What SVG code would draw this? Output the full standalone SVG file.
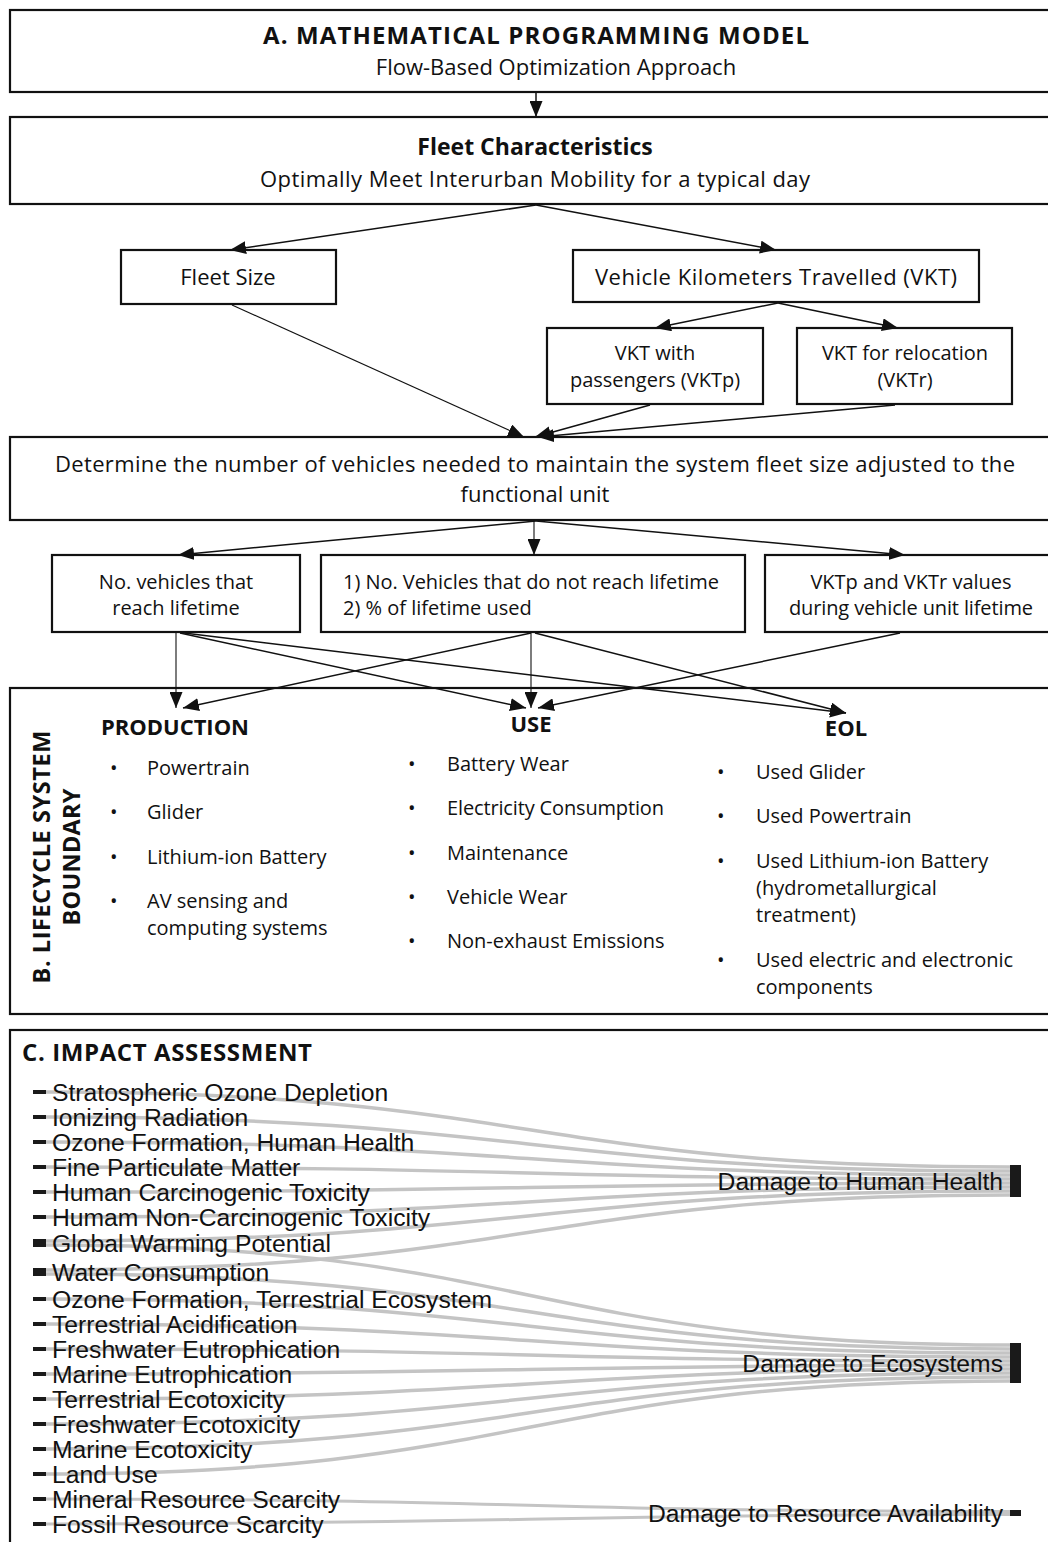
<svg xmlns="http://www.w3.org/2000/svg" width="1048" height="1542" viewBox="0 0 1048 1542">
<style>
.box{fill:#fff;stroke:#111;stroke-width:2.2}
.t{font-family:"Open Sans","Liberation Sans",sans-serif;font-size:22px;fill:#111}
.s{font-size:20px}
.tb{font-family:"Open Sans","Liberation Sans",sans-serif;font-size:23px;font-weight:bold;fill:#111}
.li{font-family:"Open Sans","Liberation Sans",sans-serif;font-size:20px;fill:#111}
.lh{font-family:"Open Sans","Liberation Sans",sans-serif;font-size:22px;font-weight:bold;fill:#111}
.c{text-anchor:middle}
.con{stroke:#111;stroke-width:1.5;fill:none;marker-end:url(#ah)}
.thin{stroke-width:1.1}
.lk{fill:none;stroke:#c4c4c4;stroke-width:3.5}
.sk{font-family:"Liberation Sans",Arial,sans-serif;font-size:24.7px;fill:#111}
.nd{fill:#1a1a1a}
</style>
<defs>
<marker id="ah" markerWidth="16" markerHeight="13" refX="16" refY="6.5" orient="auto" markerUnits="userSpaceOnUse">
<path d="M0,0 L16,6.5 L0,13 z" fill="#111"/>
</marker>
</defs>

<g id="nodeA">
<rect class="box" x="10" y="10" width="1045" height="82"/>
<text class="tb c" x="536" y="44" style="font-size:24px" textLength="546">A.  MATHEMATICAL PROGRAMMING MODEL</text>
<text class="t c" x="556" y="75">Flow-Based Optimization Approach</text>
</g>
<g id="nodeFleet">
<rect class="box" x="10" y="117" width="1045" height="87"/>
<text class="tb c" x="535" y="155">Fleet Characteristics</text>
<text class="t c" x="535" y="187" textLength="550">Optimally Meet Interurban Mobility for a typical day</text>
</g>
<g id="nodeFleetSize">
<rect class="box" x="121" y="250" width="215" height="54"/>
<text class="t c" x="228" y="285">Fleet Size</text>
</g>
<g id="nodeVKT">
<rect class="box" x="573" y="250" width="406" height="52"/>
<text class="t c" x="776" y="285" textLength="362">Vehicle Kilometers Travelled (VKT)</text>
</g>
<g id="nodeVKTp">
<rect class="box" x="547" y="328" width="216" height="76"/>
<text class="t s c" x="655" y="360">VKT with</text>
<text class="t s c" x="655" y="387">passengers (VKTp)</text>
</g>
<g id="nodeVKTr">
<rect class="box" x="797" y="328" width="215" height="76"/>
<text class="t s c" x="905" y="360">VKT for relocation</text>
<text class="t s c" x="905" y="387">(VKTr)</text>
</g>
<g id="nodeDetermine">
<rect class="box" x="10" y="437" width="1045" height="83"/>
<text class="t c" x="535" y="472" textLength="960">Determine the number of vehicles needed to maintain the system fleet size adjusted to the</text>
<text class="t c" x="535" y="502">functional unit</text>
</g>
<g id="nodeReach">
<rect class="box" x="52" y="555" width="248" height="77"/>
<text class="t s c" x="176" y="589">No. vehicles that</text>
<text class="t s c" x="176" y="615">reach lifetime</text>
</g>
<g id="nodeNotReach">
<rect class="box" x="321" y="555" width="424" height="77"/>
<text class="t s" x="343" y="589" textLength="376">1) No. Vehicles that do not reach lifetime</text>
<text class="t s" x="343" y="615">2) % of lifetime used</text>
</g>
<g id="nodeVKTvalues">
<rect class="box" x="765" y="555" width="290" height="77"/>
<text class="t s c" x="911" y="589">VKTp and VKTr values</text>
<text class="t s c" x="911" y="615" textLength="244">during vehicle unit lifetime</text>
</g>

<g id="nodeLifecycle">
<rect class="box" x="10" y="688" width="1045" height="326"/>
<text class="lh c" transform="translate(50,857) rotate(-90)" style="font-size:23.5px" textLength="253">B. LIFECYCLE SYSTEM</text>
<text class="lh c" transform="translate(80,857) rotate(-90)" style="font-size:23.5px" textLength="137">BOUNDARY</text>
</g>
<g id="nodeProduction">
<text class="lh c" x="175" y="735" textLength="148">PRODUCTION</text>
<text class="li" x="110" y="775">•</text><text class="li" x="147" y="775">Powertrain</text>
<text class="li" x="110" y="819">•</text><text class="li" x="147" y="819">Glider</text>
<text class="li" x="110" y="864">•</text><text class="li" x="147" y="864">Lithium-ion Battery</text>
<text class="li" x="110" y="908">•</text><text class="li" x="147" y="908">AV sensing and</text>
<text class="li" x="147" y="935">computing systems</text>
</g>
<g id="nodeUse">
<text class="lh c" x="531" y="732">USE</text>
<text class="li" x="408" y="771">•</text><text class="li" x="447" y="771">Battery Wear</text>
<text class="li" x="408" y="815">•</text><text class="li" x="447" y="815" textLength="217">Electricity Consumption</text>
<text class="li" x="408" y="860">•</text><text class="li" x="447" y="860">Maintenance</text>
<text class="li" x="408" y="904">•</text><text class="li" x="447" y="904">Vehicle Wear</text>
<text class="li" x="408" y="948">•</text><text class="li" x="447" y="948">Non-exhaust Emissions</text>
</g>
<g id="nodeEOL">
<text class="lh c" x="846" y="736">EOL</text>
<text class="li" x="717" y="779">•</text><text class="li" x="756" y="779">Used Glider</text>
<text class="li" x="717" y="823">•</text><text class="li" x="756" y="823">Used Powertrain</text>
<text class="li" x="717" y="868">•</text><text class="li" x="756" y="868">Used Lithium-ion Battery</text>
<text class="li" x="756" y="895">(hydrometallurgical</text>
<text class="li" x="756" y="922">treatment)</text>
<text class="li" x="717" y="967">•</text><text class="li" x="756" y="967">Used electric and electronic</text>
<text class="li" x="756" y="994">components</text>
</g>

<g id="connectors">
<line class="con" x1="536" y1="93" x2="536" y2="117"/>
<line class="con" x1="536" y1="205" x2="230" y2="250"/>
<line class="con" x1="536" y1="205" x2="776" y2="250"/>
<line class="con" x1="778" y1="303" x2="655" y2="328"/>
<line class="con" x1="778" y1="303" x2="898" y2="328"/>
<line class="con thin" x1="232" y1="305" x2="524" y2="437"/>
<line class="con" x1="650" y1="405" x2="535" y2="437"/>
<line class="con" x1="895" y1="405" x2="538" y2="437"/>
<line class="con" x1="536" y1="521" x2="178" y2="555"/>
<line class="con thin" x1="534" y1="521" x2="534" y2="555"/>
<line class="con" x1="536" y1="521" x2="905" y2="555"/>
<line class="con thin" x1="176" y1="633" x2="176" y2="708"/>
<line class="con" x1="180" y1="633" x2="526" y2="708"/>
<line class="con" x1="184" y1="633" x2="846" y2="713"/>
<line class="con" x1="531" y1="633" x2="183" y2="708"/>
<line class="con thin" x1="531" y1="633" x2="531" y2="708"/>
<line class="con" x1="535" y1="633" x2="846" y2="713"/>
<line class="con" x1="900" y1="633" x2="538" y2="708"/>
</g>

<g id="nodeImpact">
<rect class="box" x="10" y="1030" width="1045" height="520"/>
<text class="lh" x="22" y="1061" style="font-size:24px" textLength="290">C. IMPACT ASSESSMENT</text>
</g>

<g id="sankeyLinks">
<path class="lk" d="M46,1092 C528,1092 528,1167 1010,1167"/>
<path class="lk" d="M46,1117 C528,1117 528,1171 1010,1171"/>
<path class="lk" d="M46,1142 C528,1142 528,1175 1010,1175"/>
<path class="lk" d="M46,1167 C528,1167 528,1179 1010,1179"/>
<path class="lk" d="M46,1192 C528,1192 528,1183 1010,1183"/>
<path class="lk" d="M46,1217 C528,1217 528,1187 1010,1187"/>
<path class="lk" d="M46,1241 C528,1241 528,1191 1010,1191"/>
<path class="lk" d="M46,1270 C528,1270 528,1195 1010,1195"/>
<path class="lk" d="M46,1245 C528,1245 528,1345 1010,1345"/>
<path class="lk" d="M46,1274 C528,1274 528,1349 1010,1349"/>
<path class="lk" d="M46,1299 C528,1299 528,1353 1010,1353"/>
<path class="lk" d="M46,1324 C528,1324 528,1357 1010,1357"/>
<path class="lk" d="M46,1349 C528,1349 528,1361 1010,1361"/>
<path class="lk" d="M46,1374 C528,1374 528,1365 1010,1365"/>
<path class="lk" d="M46,1399 C528,1399 528,1369 1010,1369"/>
<path class="lk" d="M46,1424 C528,1424 528,1373 1010,1373"/>
<path class="lk" d="M46,1449 C528,1449 528,1377 1010,1377"/>
<path class="lk" d="M46,1474 C528,1474 528,1381 1010,1381"/>
<path class="lk" d="M46,1499 C528,1499 528,1511.5 1010,1511.5" style="stroke-width:3"/>
<path class="lk" d="M46,1524 C528,1524 528,1514.5 1010,1514.5" style="stroke-width:3"/>
</g>

<g id="sankeySources">
<rect class="nd" x="33" y="1090" width="13" height="4"/><text class="sk" x="52" y="1101">Stratospheric Ozone Depletion</text>
<rect class="nd" x="33" y="1115" width="13" height="4"/><text class="sk" x="52" y="1126">Ionizing Radiation</text>
<rect class="nd" x="33" y="1140" width="13" height="4"/><text class="sk" x="52" y="1151">Ozone Formation, Human Health</text>
<rect class="nd" x="33" y="1165" width="13" height="4"/><text class="sk" x="52" y="1176">Fine Particulate Matter</text>
<rect class="nd" x="33" y="1190" width="13" height="4"/><text class="sk" x="52" y="1201">Human Carcinogenic Toxicity</text>
<rect class="nd" x="33" y="1215" width="13" height="4"/><text class="sk" x="52" y="1226">Humam Non-Carcinogenic Toxicity</text>
<rect class="nd" x="33" y="1239" width="13" height="8"/><text class="sk" x="52" y="1252">Global Warming Potential</text>
<rect class="nd" x="33" y="1268" width="13" height="8"/><text class="sk" x="52" y="1281">Water Consumption</text>
<rect class="nd" x="33" y="1297" width="13" height="4"/><text class="sk" x="52" y="1308">Ozone Formation, Terrestrial Ecosystem</text>
<rect class="nd" x="33" y="1322" width="13" height="4"/><text class="sk" x="52" y="1333">Terrestrial Acidification</text>
<rect class="nd" x="33" y="1347" width="13" height="4"/><text class="sk" x="52" y="1358">Freshwater Eutrophication</text>
<rect class="nd" x="33" y="1372" width="13" height="4"/><text class="sk" x="52" y="1383">Marine Eutrophication</text>
<rect class="nd" x="33" y="1397" width="13" height="4"/><text class="sk" x="52" y="1408">Terrestrial Ecotoxicity</text>
<rect class="nd" x="33" y="1422" width="13" height="4"/><text class="sk" x="52" y="1433">Freshwater Ecotoxicity</text>
<rect class="nd" x="33" y="1447" width="13" height="4"/><text class="sk" x="52" y="1458">Marine Ecotoxicity</text>
<rect class="nd" x="33" y="1472" width="13" height="4"/><text class="sk" x="52" y="1483">Land Use</text>
<rect class="nd" x="33" y="1497" width="13" height="4"/><text class="sk" x="52" y="1508">Mineral Resource Scarcity</text>
<rect class="nd" x="33" y="1522" width="13" height="4"/><text class="sk" x="52" y="1533">Fossil Resource Scarcity</text>
</g>

<g id="nodeHumanHealth">
<rect class="nd" x="1010" y="1165" width="11" height="32"/>
<text class="sk" x="1003" y="1190" text-anchor="end">Damage to Human Health</text>
</g>
<g id="nodeEcosystems">
<rect class="nd" x="1010" y="1343" width="11" height="40"/>
<text class="sk" x="1003" y="1372" text-anchor="end">Damage to Ecosystems</text>
</g>
<g id="nodeResources">
<rect class="nd" x="1010" y="1510" width="11" height="6"/>
<text class="sk" x="1003" y="1522" text-anchor="end">Damage to Resource Availability</text>
</g>
</svg>
